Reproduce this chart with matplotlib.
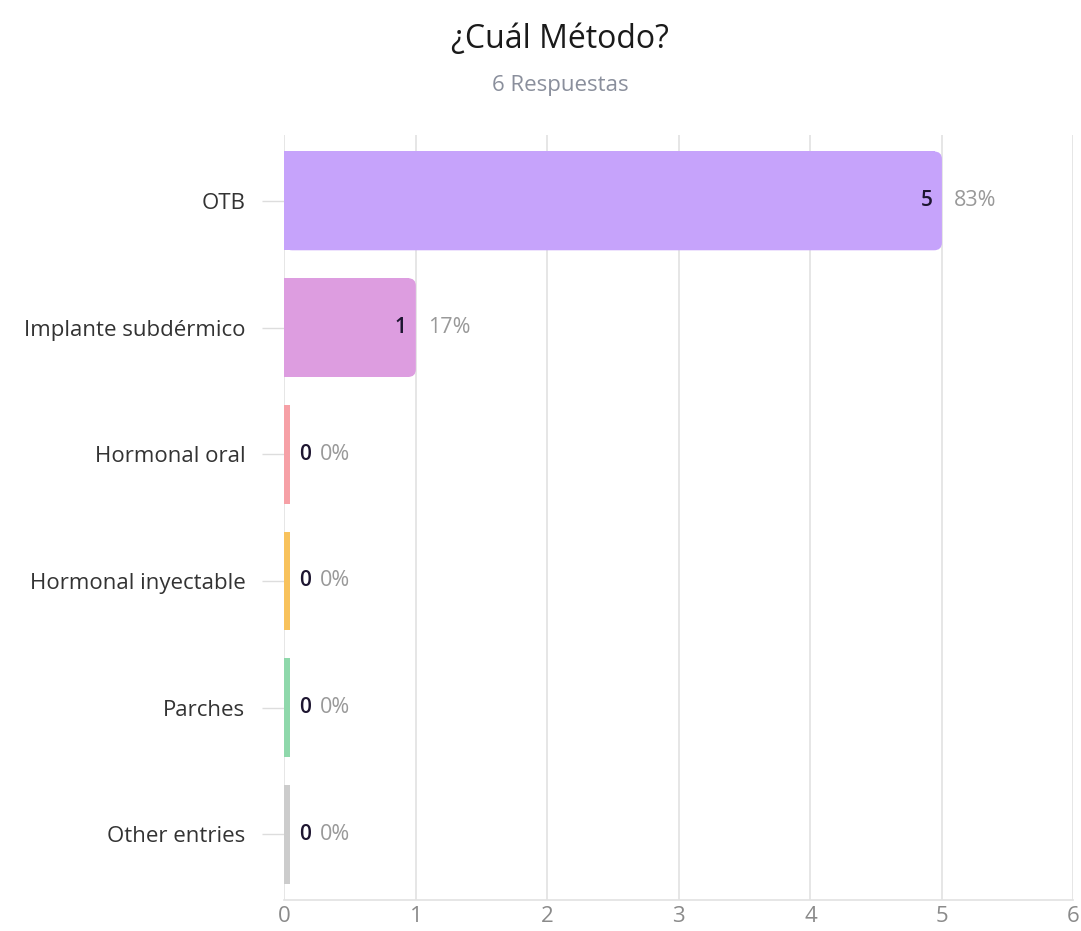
import matplotlib.pyplot as plt
from matplotlib.patches import FancyBboxPatch

plt.rcParams['font.family'] = ['Open Sans', 'DejaVu Sans']

categorias = ['OTB', 'Implante subdérmico', 'Hormonal oral',
              'Hormonal inyectable', 'Parches', 'Other entries']
respuestas = [5, 1, 0, 0, 0, 0]
porcentajes = ['83%', '17%', '0%', '0%', '0%', '0%']
colores = ['#c6a3fb', '#dd9de0', '#f6a0a6', '#f8c25c', '#8fd8ab', '#cccccc']
total = 6

fig = plt.figure(figsize=(10.81, 9.31), dpi=100)
ax = fig.add_axes([0.263, 0.033, 0.73, 0.822])

alto = 0.78
for i, (v, c) in enumerate(zip(respuestas, colores)):
    if v > 0:
        # barra con esquinas redondeadas a la derecha
        ax.barh(i, v - 0.05, height=alto, color=c, left=0)
        p = FancyBboxPatch((0, i - alto / 2), v, alto,
                           boxstyle='round,pad=0,rounding_size=0.06',
                           fc=c, ec='none')
        ax.add_patch(p)
        ax.text(v - 0.07, i, str(v), ha='right', va='center',
                fontsize=15, color='#1d1530', fontweight='semibold')
        ax.text(v + 0.09, i, porcentajes[i], ha='left', va='center',
                fontsize=15.5, color='#999999')
    else:
        ax.barh(i, 0.045, height=alto, color=c, left=0)
        ax.text(0.11, i, str(v), ha='left', va='center',
                fontsize=15, color='#1d1530', fontweight='semibold')
        ax.text(0.27, i, porcentajes[i], ha='left', va='center',
                fontsize=15.5, color='#999999')

ax.set_xlim(0, total)
ax.set_ylim(5.52, -0.52)
ax.set_yticks(range(len(categorias)))
ax.set_yticklabels(categorias, fontsize=16, color='#333333')
ax.set_xticks(range(0, 7))
ax.tick_params(axis='x', length=0, labelsize=16, labelcolor='#8a8a8a', pad=4)
ax.tick_params(axis='y', length=16, color='#dddddd', pad=12, width=1)
ax.grid(axis='x', color='#e2e2e2', linewidth=1.2)
ax.set_axisbelow(True)
for s in ['top', 'right', 'left']:
    ax.spines[s].set_visible(False)
ax.spines['bottom'].set_color('#e2e2e2')
ax.spines['bottom'].set_linewidth(1.2)

fig.text(0.518, 0.958, '¿Cuál Método?', ha='center', va='center',
         fontsize=23, color='#1a1a1a')
fig.text(0.518, 0.908, '6 Respuestas', ha='center', va='center',
         fontsize=16, color='#8a8f9c')

fig.savefig('out.png', dpi=100)
